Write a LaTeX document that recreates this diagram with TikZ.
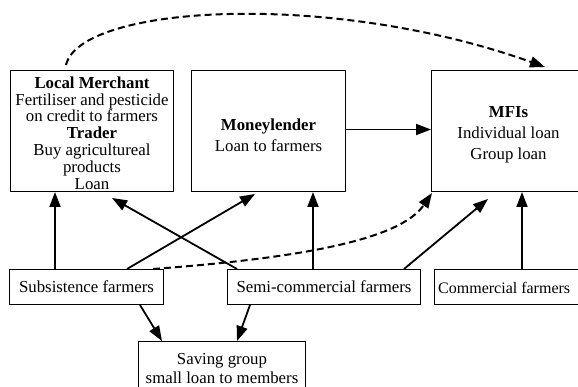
\documentclass[tikz,border=0pt]{standalone}
\usepackage{fontspec}
\setmainfont{Liberation Serif}
\usetikzlibrary{arrows.meta}
\begin{document}
\begin{tikzpicture}[x=1pt,y=1pt,
  box/.style={draw,line width=1pt,anchor=north west,inner sep=0pt,align=center,
     font=\fontsize{16.8}{21}\selectfont},
  txt/.style={inner sep=0pt,align=center,font=\fontsize{16.8}{21}\selectfont},
  arr/.style={line width=1.8pt,-{Triangle[length=15pt,width=11pt]}},
  dsh/.style={line width=2pt,dash pattern=on 7pt off 4pt,-{Triangle[length=15pt,width=11pt]}}]
\useasboundingbox (0,0) rectangle (578,-387);
\clip (0,0) rectangle (578,-387);
\node[box,minimum width=163pt,minimum height=121pt] (lm) at (10,-70) {};
\node[txt,font=\fontsize{16.8}{16.8}\selectfont] (lmt) at ([yshift=-2pt]lm.center)
  {\textbf{Local Merchant}\\Fertiliser and pesticide\\on credit to farmers\\\textbf{Trader}\\Buy agricultureal\\products\\Loan};
\node[box,minimum width=154pt,minimum height=121pt] (ml) at (191,-70) {};
\node[txt] (mlt) at ([yshift=-4pt]ml.center) {\textbf{Moneylender}\\Loan to farmers};
\node[box,minimum width=154pt,minimum height=121pt] (mfi) at (431,-70) {};
\node[txt] (mfit) at ([yshift=-4pt]mfi.center) {\textbf{MFIs}\\Individual loan\\Group loan};
\node[box,minimum width=154pt,minimum height=35pt] (sub) at (9,-269) {Subsistence farmers};
\node[box,minimum width=193pt,minimum height=35pt] (semi) at (227,-269) {Semi-commercial farmers};
\node[box,minimum width=154pt,minimum height=35pt] (comm) at (434,-269) {};
\node[txt,anchor=west,font=\fontsize{16}{20}\selectfont] (commt) at ([xshift=4pt,yshift=-1pt]comm.west) {Commercial farmers};
\node[box,minimum width=167pt,minimum height=54pt,font=\fontsize{16.8}{19}\selectfont] (sg) at (138,-341) {Saving group\\small loan to members};
\draw[arr] ([xshift=46pt]sub.north west) -- ([xshift=45pt]lm.south west);
\draw[arr] ([xshift=118pt]sub.north west) -- ([xshift=64pt,yshift=-2pt]ml.south west);
\draw[arr] ([xshift=10pt]semi.north west) -- ([xshift=102pt,yshift=-6pt]lm.south west);
\draw[arr] ([xshift=86pt]semi.north west) -- ([xshift=122pt]ml.south west);
\draw[arr] ([xshift=177pt]semi.north west) -- ([xshift=57pt,yshift=-7pt]mfi.south west);
\draw[arr] ([xshift=88pt]comm.north west) -- ([xshift=91pt]mfi.south west);
\draw[arr] ([yshift=1.5pt]ml.east) -- ([yshift=1.5pt]mfi.west);
\draw[arr] ([xshift=131pt]sub.south west) -- ([xshift=24pt]sg.north west);
\draw[arr] ([xshift=23pt]semi.south west) -- ([xshift=99pt]sg.north west);
\draw[dsh] ([xshift=56pt,yshift=5pt]lm.north west) .. controls (80,-5) and (330,10) .. ([xshift=114pt,yshift=3pt]mfi.north west);
\draw[dsh] ([xshift=144pt]sub.north west) .. controls (300,-258) and (400,-240) .. ([xshift=1pt,yshift=-1pt]mfi.south west);
\end{tikzpicture}
\end{document}
